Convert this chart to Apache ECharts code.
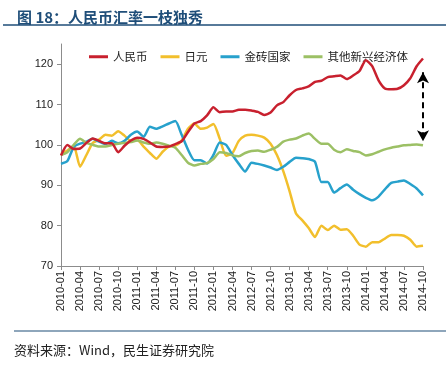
<!DOCTYPE html>
<html><head><meta charset="utf-8">
<script src="https://cdn.jsdelivr.net/npm/echarts@6/dist/echarts.min.js"></script>
<style>html,body{margin:0;padding:0;background:#fff;}#c{width:448px;height:365px;}</style>
</head><body><div id="c"></div>
<script>
const categories = [
 '2010-01','2010-02','2010-03','2010-04','2010-05','2010-06','2010-07','2010-08','2010-09','2010-10','2010-11','2010-12',
 '2011-01','2011-02','2011-03','2011-04','2011-05','2011-06','2011-07','2011-08','2011-09','2011-10','2011-11','2011-12',
 '2012-01','2012-02','2012-03','2012-04','2012-05','2012-06','2012-07','2012-08','2012-09','2012-10','2012-11','2012-12',
 '2013-01','2013-02','2013-03','2013-04','2013-05','2013-06','2013-07','2013-08','2013-09','2013-10','2013-11','2013-12',
 '2014-01','2014-02','2014-03','2014-04','2014-05','2014-06','2014-07','2014-08','2014-09','2014-10'];
const rmb = [97.4,100.0,99.0,99.1,100.5,101.6,101.0,100.4,100.4,98.2,99.8,101.1,
 101.8,101.5,100.6,99.6,99.5,99.6,100.2,100.9,103.2,105.3,105.9,107.3,
 109.3,108.1,108.3,108.3,108.7,108.7,108.5,108.2,107.4,108.0,109.8,110.6,
 112.3,113.6,114.0,114.5,115.6,115.9,116.8,117.0,117.2,116.3,117.2,118.3,
 121.0,119.5,116.0,114.0,113.8,113.9,114.8,116.5,119.5,121.4];
const jpy = [97.8,98.6,99.8,94.6,97.5,100.5,101.3,102.5,102.3,103.4,102.3,101.0,
 101.2,99.6,98.0,96.6,98.3,99.6,99.8,101.1,104.0,105.3,104.0,104.3,
 105.2,101.5,97.3,98.0,101.0,102.3,102.5,102.3,101.8,100.3,97.5,93.5,
 88.5,83.0,81.3,79.4,77.2,80.0,78.9,80.0,79.0,79.1,77.5,75.3,
 74.8,75.9,75.9,76.8,77.7,77.7,77.5,76.5,74.8,75.0];
const brics = [95.3,96.0,99.5,100.3,100.8,101.5,100.8,100.2,101.0,100.4,101.0,102.5,
 103.3,102.0,104.5,104.0,104.6,105.3,105.9,102.5,98.8,96.2,96.2,95.4,
 97.5,100.6,100.0,97.5,95.3,93.4,95.6,95.3,94.9,94.4,93.8,94.6,
 95.8,96.8,96.7,96.5,95.8,90.8,90.8,88.2,89.3,90.2,88.9,87.8,
 86.9,86.3,87.2,89.0,90.6,90.9,91.2,90.3,89.2,87.5];
const emerging = [97.5,98.2,100.0,101.5,100.5,100.0,99.6,99.6,100.0,100.3,100.5,100.7,
 101.1,100.6,100.3,100.6,100.3,99.8,99.3,97.5,95.6,94.9,95.3,95.5,
 96.5,98.2,98.0,97.4,97.2,98.0,98.5,98.6,98.3,98.8,99.5,100.8,
 101.3,101.6,102.3,102.8,101.5,100.3,100.3,98.8,98.2,98.9,98.5,98.2,
 97.4,97.7,98.3,98.9,99.3,99.6,99.9,100.0,100.1,99.9];
const seriesNames = ['人民币','日元','金砖国家','其他新兴经济体'];
const seriesColors = ['#c8202e','#f2bf2c','#27a1cc','#9cc065'];
const yTicks = [70,80,90,100,110,120];
const arrowRange = [118.0, 100.9];

const chart = echarts.init(document.getElementById('c'));
const datas = [rmb, jpy, brics, emerging];
const series = datas.map((d,k)=>({
  name: seriesNames[k], type:'line', data:d, symbol:'none', smooth:0.2,
  lineStyle:{width:2.5, color:seriesColors[k]}, itemStyle:{color:seriesColors[k]},
  z: 2+k
}));
series[0].z = 6;
series[0].markLine = {
  silent:true, symbol:['arrow','arrow'], symbolSize:[9,11],
  label:{show:false},
  lineStyle:{color:'#000', type:[6,4], width:2},
  data:[[{coord:[categories.length-1-0.3, arrowRange[0]]},{coord:[categories.length-1-0.3, arrowRange[1]]}]]
};
chart.setOption({
  animation:false,
  textStyle:{fontFamily:'"Liberation Sans", Arial, "Noto Sans CJK SC", sans-serif'},
  title:{text:'图 18：人民币汇率一枝独秀', left:12, top:5,
    textStyle:{fontSize:15, fontWeight:'bold', color:'#1f4e79', fontFamily:'"Noto Sans CJK SC", sans-serif'}},
  legend:{left:84, top:46, itemWidth:19, itemHeight:3, itemGap:13, icon:'rect',
    textStyle:{fontSize:11.5, color:'#222', fontFamily:'"Noto Sans CJK SC", sans-serif'},
    data:seriesNames},
  grid:{left:61, right:25, top:44, bottom:99},
  xAxis:{type:'category', data:categories, boundaryGap:false,
    axisLine:{lineStyle:{color:'#8c8c8c'}},
    axisTick:{interval:2, length:4, lineStyle:{color:'#8c8c8c'}},
    axisLabel:{interval:2, rotate:90, fontSize:11, color:'#222', margin:5}},
  yAxis:{type:'value', min:70, max:125, interval:10,
    splitLine:{show:false},
    axisLine:{show:true, lineStyle:{color:'#8c8c8c'}},
    axisTick:{show:true, length:4, lineStyle:{color:'#8c8c8c'}, customValues:yTicks},
    axisLabel:{fontSize:11, color:'#222', margin:8, customValues:yTicks}},
  graphic:[
    {type:'line', shape:{x1:3,y1:25,x2:446,y2:25}, style:{stroke:'#1f4e79', lineWidth:1.5}},
    {type:'line', shape:{x1:14,y1:331,x2:446,y2:331}, style:{stroke:'#1f4e79', lineWidth:1.2}},
    {type:'text', left:14, top:344, style:{text:'资料来源：Wind，民生证券研究院', fontSize:13, fill:'#222',
      fontFamily:'"Noto Sans CJK SC", sans-serif'}}
  ],
  series:series
});
</script></body></html>
